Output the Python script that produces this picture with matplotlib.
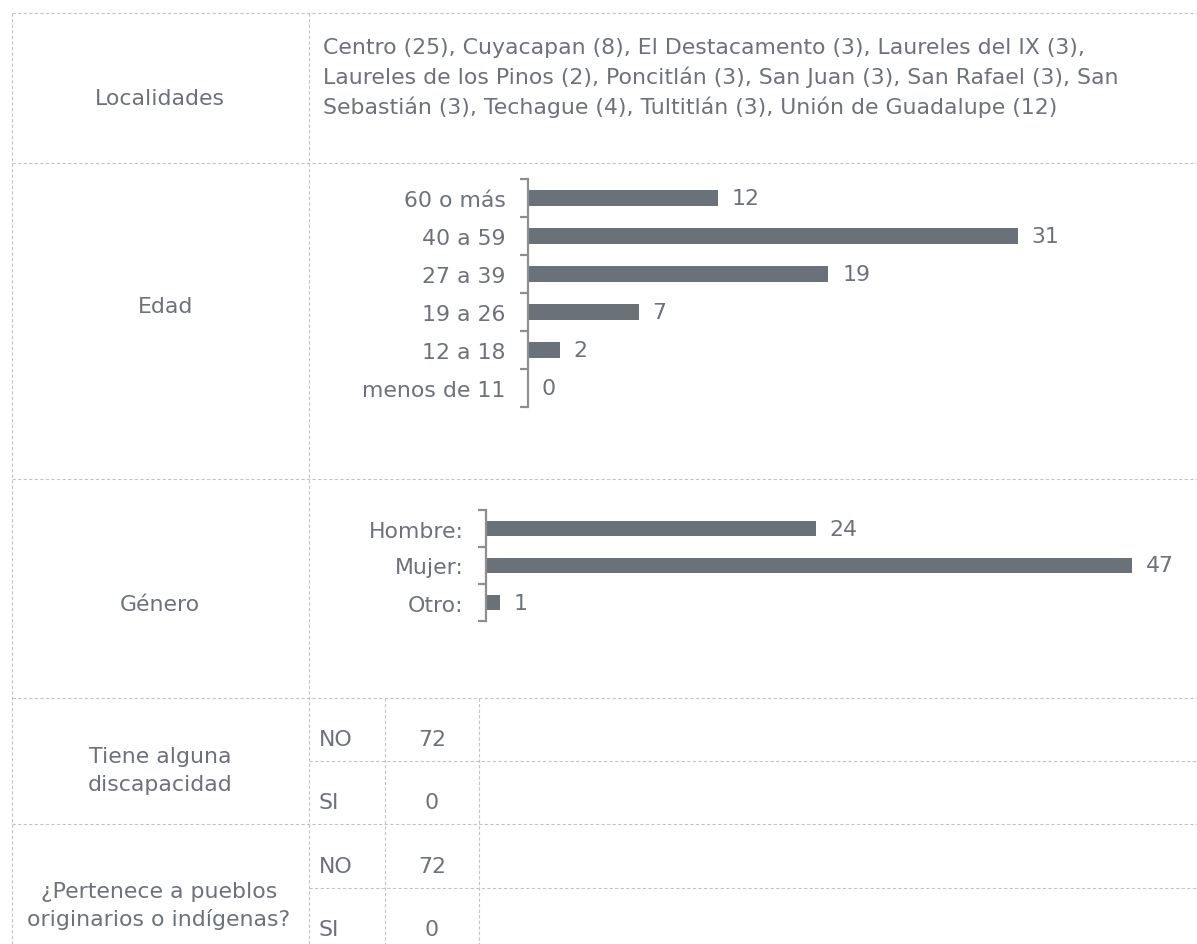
import matplotlib
matplotlib.use("Agg")
import matplotlib.pyplot as plt

# ---------------- data ----------------
localidades = ["Centro", "Cuyacapan", "El Destacamento", "Laureles del IX",
               "Laureles de los Pinos", "Poncitlán", "San Juan", "San Rafael",
               "San Sebastián", "Techague", "Tultitlán", "Unión de Guadalupe"]
localidades_n = [25, 8, 3, 3, 2, 3, 3, 3, 3, 4, 3, 12]

edad_cats = ["60 o más", "40 a 59", "27 a 39", "19 a 26", "12 a 18", "menos de 11"]
edad_vals = [12, 31, 19, 7, 2, 0]

genero_cats = ["Hombre:", "Mujer:", "Otro:"]
genero_vals = [24, 47, 1]

resp_cats = ["NO", "SI"]
discapacidad_vals = [72, 0]
indigena_vals = [72, 0]

row_labels = ["Localidades", "Edad", "Género", "Tiene alguna\ndiscapacidad",
              "¿Pertenece a pueblos\noriginarios o indígenas?"]

# ---------------- style ----------------
W, H = 1197, 945
TXT = "#6b7279"
BAR = "#6b7178"
GRID = "#c4c4c4"
AXC = "#8e8e8e"
FS = 15.8
plt.rcParams['font.family'] = ['DejaVu Sans']

fig = plt.figure(figsize=(W / 100, H / 100), dpi=100)
bg = fig.add_axes([0, 0, 1, 1])
bg.set_xlim(0, W)
bg.set_ylim(H, 0)
bg.axis("off")

def px_axes(x0, y0, x1, y1):
    return fig.add_axes([x0 / W, 1 - y1 / H, (x1 - x0) / W, (y1 - y0) / H])

ls = (0, (3, 2))
lw = 0.8
# horizontal table lines
for y, xa in [(14, 12), (164, 12), (480, 12), (699, 12), (762, 309), (825, 12), (889, 309)]:
    bg.plot([xa, W], [y, y], color=GRID, lw=lw, ls=ls)
# vertical table lines
for x, ya in [(12, 14), (309, 14), (385, 699), (479, 699)]:
    bg.plot([x, x], [ya, H], color=GRID, lw=lw, ls=ls)

# left column labels
bg.text(160, 99, row_labels[0], ha="center", va="center", fontsize=FS, color=TXT)
bg.text(166, 307, row_labels[1], ha="center", va="center", fontsize=FS, color=TXT)
bg.text(160, 605, row_labels[2], ha="center", va="center", fontsize=FS, color=TXT)
for i, line in enumerate(row_labels[3].split("\n")):
    bg.text(160, 757 + i * 28, line, ha="center", va="center", fontsize=FS, color=TXT)
for i, line in enumerate(row_labels[4].split("\n")):
    bg.text(159, 892 + i * 27, line, ha="center", va="center", fontsize=FS, color=TXT)

# localities text
full = ", ".join(f"{n} ({c})" for n, c in zip(localidades, localidades_n))
b1 = full.index("Laureles de los Pinos")
b2 = full.index("Sebastián")
lines = [full[:b1].rstrip(), full[b1:b2].rstrip(), full[b2:]]
for i, line in enumerate(lines):
    bg.text(323, 48 + i * 29.5, line, ha="left", va="center", fontsize=FS, color=TXT)

# yes/no blocks
for block_y, vals in [(740, discapacidad_vals), (867, indigena_vals)]:
    for j, (c, v) in enumerate(zip(resp_cats, vals)):
        y = block_y + j * 63
        bg.text(319, y, c, ha="left", va="center", fontsize=FS, color=TXT)
        bg.text(432, y, str(v), ha="center", va="center", fontsize=FS, color=TXT)

# ---------------- bar charts ----------------
def bar_chart(ax, cats, vals, height, xmax):
    pos = list(range(len(cats)))
    ax.barh(pos, vals, height=height, color=BAR)
    ax.set_ylim(len(cats) - 0.5, -0.5)
    ax.set_xlim(0, xmax)
    for s in ["top", "right", "bottom"]:
        ax.spines[s].set_visible(False)
    ax.spines["left"].set_color(AXC)
    ax.spines["left"].set_linewidth(1.6)
    ax.set_xticks([])
    ax.set_yticks(pos)
    ax.set_yticklabels(cats, fontsize=FS, color=TXT)
    ax.tick_params(axis="y", which="major", length=0, pad=16)
    ax.set_yticks([p - 0.5 for p in pos] + [len(cats) - 0.5], minor=True)
    ax.tick_params(axis="y", which="minor", length=6, width=1.6, color=AXC, direction="out")
    ax.patch.set_alpha(0)
    for p, v in zip(pos, vals):
        ax.annotate(str(v), (v, p), xytext=(10, 0), textcoords="offset points",
                    ha="left", va="center", fontsize=FS, color=TXT)

ax1 = px_axes(528, 180, 1160, 408)
bar_chart(ax1, edad_cats, edad_vals, 0.4, 40)

ax2 = px_axes(486, 511, 1173, 622)
bar_chart(ax2, genero_cats, genero_vals, 0.38, 50)

fig.savefig("out.png", dpi=100, facecolor="white")
